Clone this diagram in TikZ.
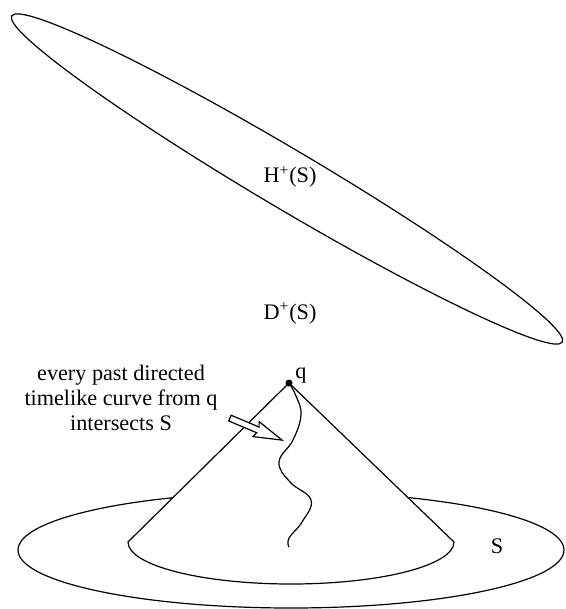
\documentclass[tikz,border=0pt]{standalone}
\usepackage{fontspec}
\setmainfont{Liberation Serif}
\usetikzlibrary{shapes.arrows,calc}
\tikzset{
	lbl/.style = {font=\fontsize{11.1}{12.5}\selectfont, inner sep=0pt},
	hollowarrow/.style = {single arrow, draw, fill=white, minimum height=28.3pt,
		inner sep=1.25pt, single arrow head extend=2.5pt,
		single arrow tip angle=32, single arrow head indent=1pt}
}
\begin{document}
\begin{tikzpicture}[x = 0.5pt, y = -0.5pt, line width = 0.6pt]
\useasboundingbox (0,0) rectangle (566,609);
% future Cauchy horizon
\draw[rotate around={-30.65:(287,179)}] (287,179) ellipse [x radius=320, y radius=29.5];
\node[lbl] (horizon) at (290,177) {H\textsuperscript{+}(S)};
\node[lbl] (domain) at (290,313) {D\textsuperscript{+}(S)};
% the surface S
\draw (291,550) ellipse [x radius=273, y radius=58];
\node[lbl] (surf) at (497,546) {S};
% past cone of q
\coordinate (q) at (289,383);
\filldraw[fill=white] (q) -- (128,542) arc [start angle=180, end angle=0, x radius=163, y radius=42] -- cycle;
\draw plot[smooth, tension=0.7] coordinates {(q) (296,396) (301,415) (293,440) (279,462) (290,482) (311,500) (302,522) (289,538) (289,547)};
\fill (q) circle [radius=3.5];
\node[lbl] (qlbl) at (301,376) {q};
\node[lbl, align=center] (claim) at (121,398) {every past directed\\timelike curve from q\\intersects S};
\coordinate (arrtail) at (225,416);
\coordinate (arrtip) at (277,438);
\node[hollowarrow, rotate=-22.9] (arrow) at ($(arrtail)!0.5!(arrtip)$) {};
\end{tikzpicture}
\end{document}
